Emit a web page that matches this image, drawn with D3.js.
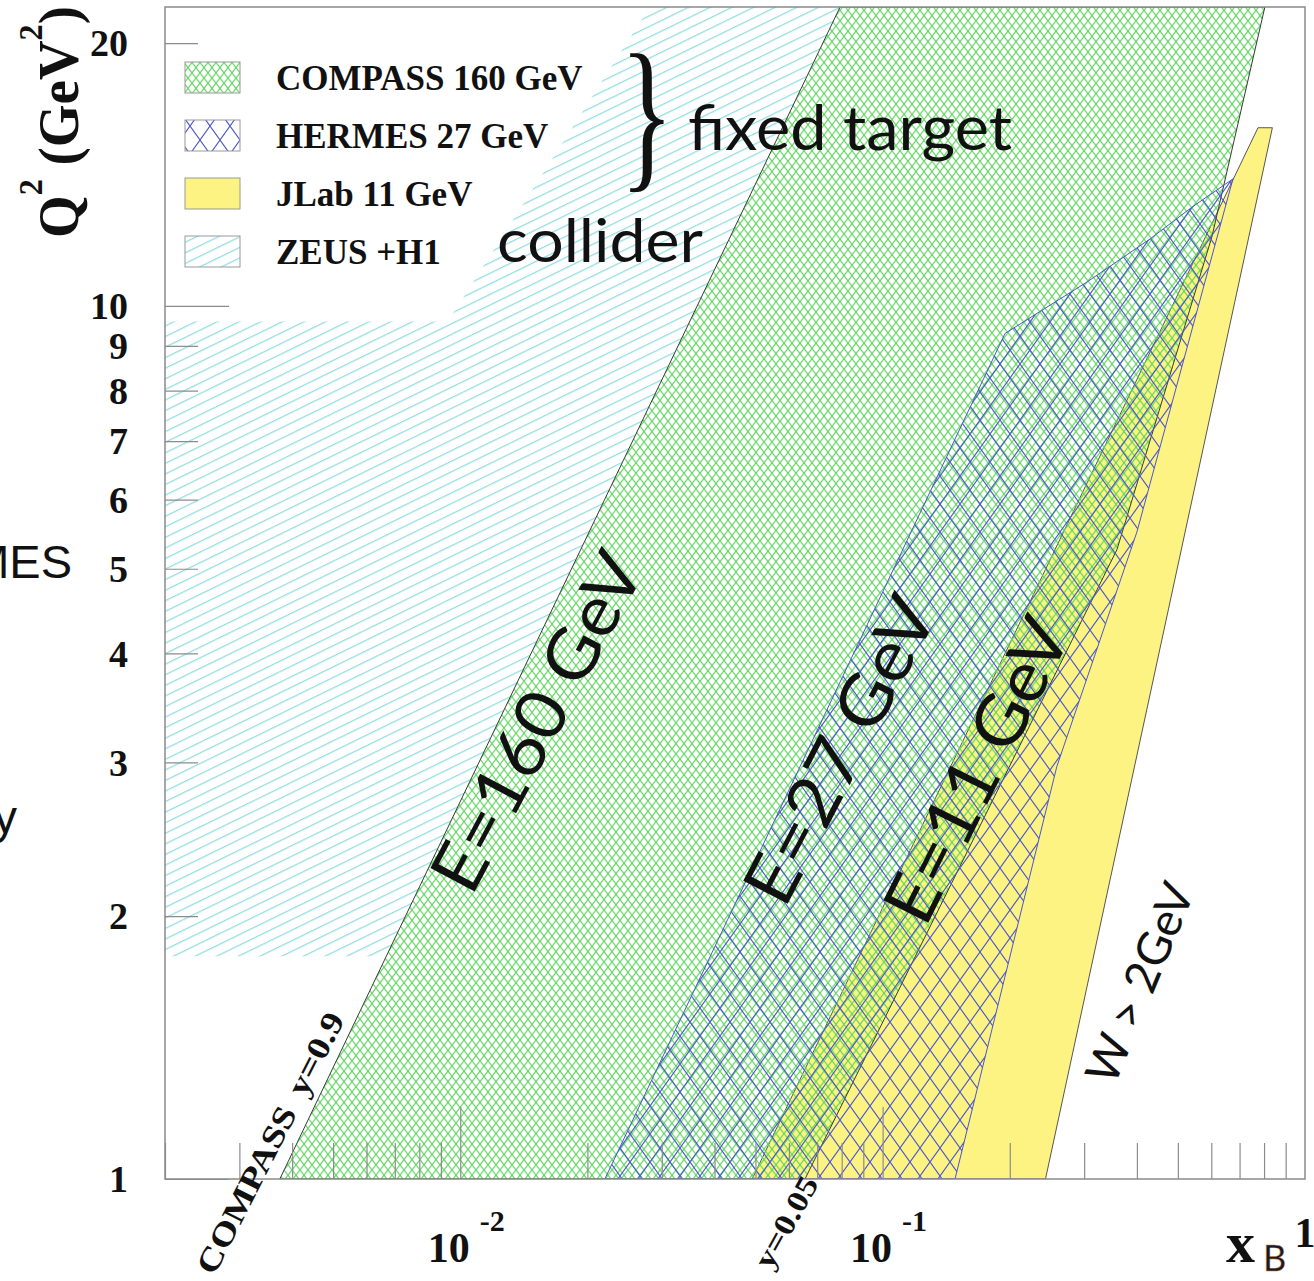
<!DOCTYPE html>
<html>
<head>
<meta charset="utf-8">
<script src="https://cdn.jsdelivr.net/npm/d3@7"></script>
<style>body{margin:0;background:#fff}</style>
</head>
<body>
<script>
// Regions: x_B and Q^2 (GeV^2)
const zeusX = [0.002, 0.0072, 0.110, 0.0281, 0.00935, 0.002]
const zeusQ2 = [1.8, 1.8, 22, 22, 9.6, 9.6]
const compassX = [0.00374, 0.0793, 0.8035, 0.602, 0.3588, 0.0655]
const compassQ2 = [1, 22, 22, 12.0, 5.26, 1]
const jlabX = [0.0491, 0.774, 0.837, 0.243]
const jlabQ2 = [1, 16, 16, 1]
const hermesX = [0.0220, 0.1949, 0.3046, 0.4294, 0.5429, 0.6752, 0.4000, 0.2586, 0.1484]
const hermesQ2 = [1, 9.3, 10.65, 11.93, 13.0, 13.98, 5.51, 2.97, 1]

// Axes
const yMajor = [1, 10]
const yMinor = [2, 3, 4, 5, 6, 7, 8, 9, 20]
const yLabels = ["1", "2", "3", "4", "5", "6", "7", "8", "9", "10", "20"]
const yLabelValues = [1, 2, 3, 4, 5, 6, 7, 8, 9, 10, 20]
const xMajor = [0.01, 0.1]
const xMinor = [0.002, 0.003, 0.004, 0.005, 0.006, 0.007, 0.008, 0.009,
  0.02, 0.03, 0.04, 0.05, 0.06, 0.07, 0.08, 0.09,
  0.2, 0.3, 0.4, 0.5, 0.6, 0.7, 0.8, 0.9]
const xTickValues = [0.01, 0.1, 1]
const xTickBase = ["10", "10", "1"]
const xTickExp = ["-2", "-1", ""]

// Legend
const legendNames = ["COMPASS 160 GeV", "HERMES 27 GeV", "JLab 11 GeV", "ZEUS +H1"]
const legendFills = ["url(#compassFill)", "url(#hermes)", "#fcf383", "url(#zeus)"]

// In-plot annotations: [text, x, Q2, angle, font size, length]
const notes = [
  ["E=160 GeV", 0.0152, 3.34, -62, 70, 372],
  ["E=27 GeV", 0.0793, 3.10, -62.5, 70, 335],
  ["E=11 GeV", 0.1672, 2.94, -63.5, 70, 330],
  ["W > 2GeV", 0.4066, 1.677, -67.5, 46, 212],
]

const W = 1314, H = 1281
const x = d3.scaleLog().domain([0.002, 1]).range([165, 1305])
const y = d3.scaleLog().domain([1, 22]).range([1179, 7])
const serif = "'Liberation Serif', 'Times New Roman', serif"
const sans = "Lato, 'Open Sans', sans-serif"

const svg = d3.select("body").append("svg").attr("width", W).attr("height", H)
const defs = svg.append("defs")

// Hatch patterns
defs.append("pattern").attr("id", "zeus").attr("patternUnits", "userSpaceOnUse")
  .attr("width", 12).attr("height", 9.5).attr("patternTransform", "rotate(-26)")
  .append("line").attr("x1", 0).attr("x2", 12).attr("y1", 4.5).attr("y2", 4.5)
  .attr("stroke", "#74d4da").attr("stroke-width", 1)

const mesh = "M-1,-1.3L9,11.7M9,-1.3L-1,11.7"
const cp = defs.append("pattern").attr("id", "compass").attr("patternUnits", "userSpaceOnUse")
  .attr("width", 8).attr("height", 10.4)
cp.append("path").attr("d", mesh)
  .attr("stroke", "#5fd65f").attr("stroke-width", 1.15).attr("fill", "none")

const cpf = defs.append("pattern").attr("id", "compassFill").attr("patternUnits", "userSpaceOnUse")
  .attr("width", 8).attr("height", 10.4)
cpf.append("rect").attr("width", 8).attr("height", 10.4).attr("fill", "#fff")
cpf.append("path").attr("d", mesh)
  .attr("stroke", "#5fd65f").attr("stroke-width", 1.15).attr("fill", "none")

defs.append("pattern").attr("id", "hermes").attr("patternUnits", "userSpaceOnUse")
  .attr("width", 20).attr("height", 28)
  .append("path").attr("d", "M-1,-1.4L21,29.4M21,-1.4L-1,29.4")
  .attr("stroke", "#4b55cc").attr("stroke-width", 1.1).attr("fill", "none")

defs.append("clipPath").attr("id", "frame").append("rect")
  .attr("x", x.range()[0]).attr("y", y.range()[1])
  .attr("width", x.range()[1] - x.range()[0]).attr("height", y.range()[0] - y.range()[1])

// Regions
const area = d3.line().x(d => x(d[0])).y(d => y(d[1]))
const poly = (xs, qs) => area(d3.zip(xs, qs)) + "Z"
const plot = svg.append("g").attr("clip-path", "url(#frame)")

plot.append("path").attr("d", poly(zeusX, zeusQ2)).attr("fill", "url(#zeus)")
plot.append("path").attr("d", poly(compassX, compassQ2)).attr("fill", "#fff")
plot.append("path").attr("d", poly(jlabX, jlabQ2)).attr("fill", "#fcf383")
  .attr("stroke", "#555").attr("stroke-width", 1)
plot.append("path").attr("d", poly(compassX, compassQ2)).attr("fill", "url(#compass)")
  .attr("stroke", "#3a3a3a").attr("stroke-width", 1)
plot.append("path").attr("d", poly(hermesX, hermesQ2)).attr("fill", "url(#hermes)")
  .attr("stroke", "#4b55cc").attr("stroke-width", 1)

// Ticks (inward)
const tickStyle = g => g.call(s => s.select(".domain").remove())
  .call(s => s.selectAll(".tick line").attr("stroke", "#8c8c8c").attr("stroke-width", 1.2))
svg.append("g").attr("transform", `translate(${x.range()[0]},0)`)
  .call(d3.axisLeft(y).tickValues(yMinor).tickSize(-33).tickFormat("")).call(tickStyle)
svg.append("g").attr("transform", `translate(${x.range()[0]},0)`)
  .call(d3.axisLeft(y).tickValues(yMajor).tickSize(-64).tickFormat("")).call(tickStyle)
svg.append("g").attr("transform", `translate(0,${y.range()[0]})`)
  .call(d3.axisBottom(x).tickValues(xMinor).tickSize(-36).tickFormat("")).call(tickStyle)
svg.append("g").attr("transform", `translate(0,${y.range()[0]})`)
  .call(d3.axisBottom(x).tickValues(xMajor).tickSize(-72).tickFormat("")).call(tickStyle)

// Frame
svg.append("rect").attr("x", x.range()[0]).attr("y", y.range()[1])
  .attr("width", x.range()[1] - x.range()[0]).attr("height", y.range()[0] - y.range()[1])
  .attr("fill", "none").attr("stroke", "#8a8a8a").attr("stroke-width", 1.5)

// Y tick labels
svg.append("g").selectAll("text").data(yLabelValues).join("text")
  .attr("x", x.range()[0] - 37).attr("y", d => y(d)).attr("dy", "0.35em")
  .attr("text-anchor", "end").attr("font-family", serif).attr("font-weight", "bold")
  .attr("font-size", 38).attr("fill", "#111")
  .text((d, i) => yLabels[i])

// X tick labels (10^n)
const xl = svg.append("g").selectAll("text").data(xTickValues).join("text")
  .attr("x", d => x(d) + (d === 1 ? 0 : 6))
  .attr("y", d => d === 1 ? 1247 : 1262)
  .attr("text-anchor", "middle").attr("font-family", serif).attr("font-weight", "bold")
  .attr("font-size", 42).attr("fill", "#111")
xl.append("tspan").text((d, i) => xTickBase[i])
xl.append("tspan").attr("font-size", 30).attr("dx", 10).attr("dy", -31).text((d, i) => xTickExp[i])

// Axis titles
svg.append("text").attr("x", 1226).attr("y", 1262).attr("font-family", serif)
  .attr("font-weight", "bold").attr("font-size", 58).attr("fill", "#111").text("x")
svg.append("text").attr("x", 1263).attr("y", 1271).attr("font-family", sans)
  .attr("font-size", 36).attr("fill", "#1a1a2a").attr("stroke", "#d08030").attr("stroke-width", 0.4).text("B")

function fit(sel, len) {
  const n = sel.node().getComputedTextLength()
  return len / n
}

const yt = svg.append("text").attr("font-family", serif).attr("font-weight", "bold")
  .attr("font-size", 58).attr("fill", "#111")
yt.append("tspan").text("Q")
yt.append("tspan").attr("font-size", 34).attr("dy", -36).text("2")
yt.append("tspan").attr("dy", 36).text(" (GeV")
yt.append("tspan").attr("font-size", 34).attr("dy", -36).text("2")
yt.append("tspan").attr("dy", 36).text(")")
yt.attr("transform", `translate(78,238) rotate(-90) scale(${fit(yt, 232)},1)`)

// Line labels at the bottom
const c9 = svg.append("text").attr("font-family", serif).attr("font-weight", "bold")
  .attr("font-size", 32).attr("fill", "#111").attr("text-anchor", "middle").attr("dy", "0.35em")
c9.append("tspan").text("COMPASS")
c9.append("tspan").attr("dx", 14).text("y=0.9")
c9.attr("transform", `translate(${x(0.00374) - 10},${y(1.10)}) rotate(-63) scale(${fit(c9, 272)},1)`)

const c05 = svg.append("text").attr("font-family", serif).attr("font-weight", "bold")
  .attr("font-size", 30).attr("fill", "#111").attr("text-anchor", "middle").attr("dy", "0.35em")
  .text("y=0.05")
c05.attr("transform", `translate(${x(0.059)},${y(0.893)}) rotate(-61) scale(${fit(c05, 100)},1)`)

// Energy labels
notes.forEach(([t, nx, nq, a, fs, len]) => {
  const el = svg.append("text").attr("font-family", sans).attr("font-size", fs)
    .attr("fill", "#111").attr("text-anchor", "middle").attr("dy", "0.35em").text(t)
  el.attr("transform", `translate(${x(nx)},${y(nq)}) rotate(${a}) scale(${fit(el, len)},1)`)
})

// Legend
const lg = svg.append("g")
lg.selectAll("rect").data(legendNames).join("rect")
  .attr("x", 185).attr("y", (d, i) => 62 + i * 58).attr("width", 55).attr("height", 31)
  .attr("fill", (d, i) => legendFills[i]).attr("stroke", "#999").attr("stroke-width", 1)
lg.selectAll("text").data(legendNames).join("text")
  .attr("x", 276).attr("y", (d, i) => 90 + i * 58)
  .attr("font-family", serif).attr("font-weight", "bold").attr("font-size", 35).attr("fill", "#111")
  .text(d => d)

// Slide annotations
svg.append("text").attr("transform", "translate(620,170) scale(0.7,1.05)")
  .attr("font-family", serif).attr("font-size", 160).attr("fill", "#111").text("}")
const ft = svg.append("text").attr("x", x(0.0346)).attr("y", y(15.09))
  .attr("font-family", sans).attr("font-size", 62).attr("fill", "#111").text("fixed target")
ft.attr("textLength", 324).attr("lengthAdjust", "spacingAndGlyphs")
const co = svg.append("text").attr("x", x(0.01222)).attr("y", y(11.23))
  .attr("font-family", sans).attr("font-size", 60).attr("fill", "#111").text("collider")
co.attr("textLength", 206).attr("lengthAdjust", "spacingAndGlyphs")

// Fragments of slide text at the page edge
svg.append("text").attr("x", 72).attr("y", 578).attr("text-anchor", "end")
  .attr("font-family", "'Liberation Sans', Arial, sans-serif").attr("font-size", 47).attr("fill", "#111").text("HERMES")
svg.append("text").attr("x", 17).attr("y", 833).attr("text-anchor", "end")
  .attr("font-family", "'Liberation Sans', Arial, sans-serif").attr("font-size", 47).attr("fill", "#111").text("y")
</script>
</body>
</html>
